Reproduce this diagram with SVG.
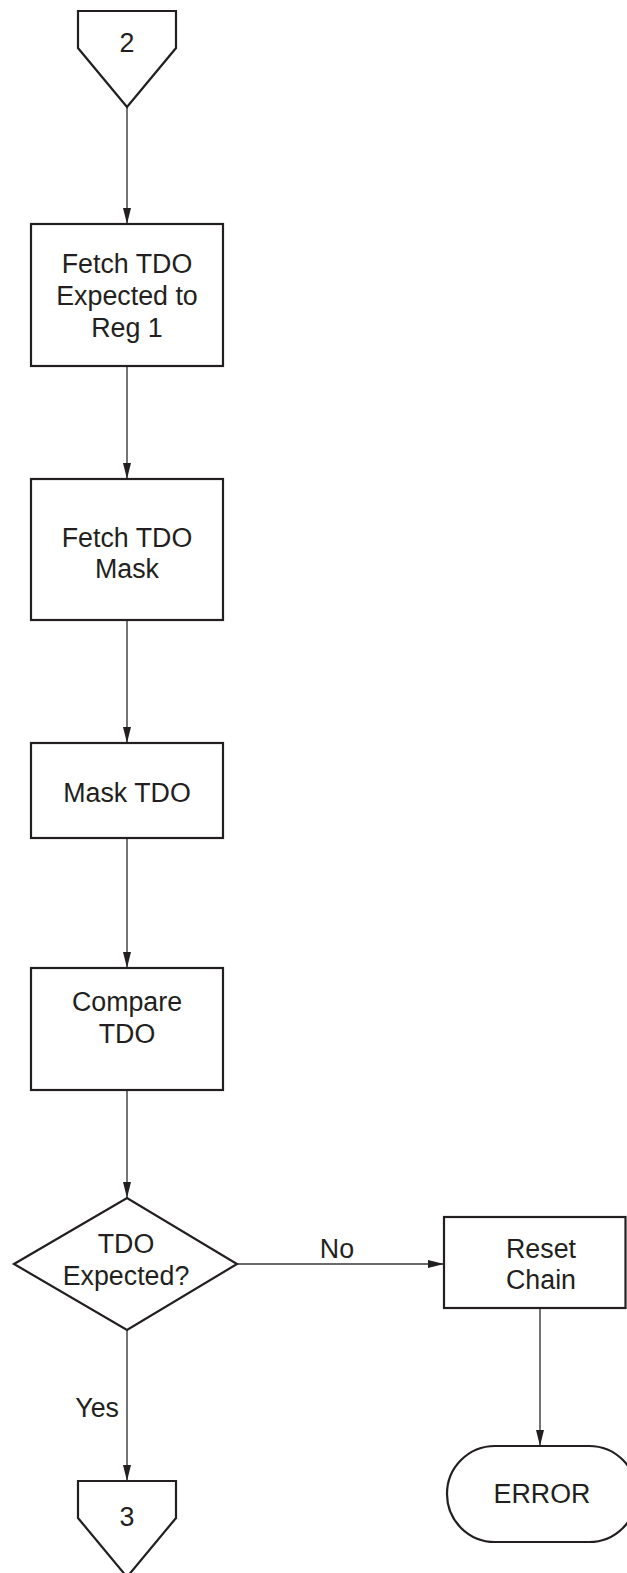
<svg xmlns="http://www.w3.org/2000/svg" width="627" height="1573" viewBox="0 0 627 1573">
  <style>
    .shape { fill: #ffffff; stroke: #231f20; stroke-width: 2.2; stroke-linejoin: miter; }
    .label { font-family: "Liberation Sans", Arial, sans-serif; font-size: 26.8px; fill: #231f20; text-anchor: middle; }
    .edge { fill: none; stroke: #3a3a3a; stroke-width: 1.4; }
  </style>
  <defs>
    <marker id="arrow" viewBox="0 0 16 8" refX="16" refY="4" markerWidth="16" markerHeight="8" markerUnits="userSpaceOnUse" orient="auto">
      <path d="M0,0 L16,4 L0,8 Z" fill="#231f20"/>
    </marker>
  </defs>

  <rect width="627" height="1573" fill="#ffffff"/>

  <!-- connectors -->
  <g id="connectors">
    <path class="edge" d="M127,107 V224" marker-end="url(#arrow)"/>
    <path class="edge" d="M127,366 V479" marker-end="url(#arrow)"/>
    <path class="edge" d="M127,620 V743" marker-end="url(#arrow)"/>
    <path class="edge" d="M127,838 V968" marker-end="url(#arrow)"/>
    <path class="edge" d="M127,1090 V1198" marker-end="url(#arrow)"/>
    <path class="edge" d="M127,1330 V1481" marker-end="url(#arrow)"/>
    <path class="edge" d="M237,1264 H444" marker-end="url(#arrow)"/>
    <path class="edge" d="M540,1308 V1446" marker-end="url(#arrow)"/>
    <text class="label" x="337" y="1258">No</text>
    <text class="label" x="119" y="1417" style="text-anchor:end">Yes</text>
  </g>

  <!-- off-page connector 2 -->
  <g id="offpage-2">
    <path class="shape" d="M78,11 H176 V48 L127,107 L78,48 Z"/>
    <text class="label" x="127" y="52">2</text>
  </g>

  <g id="fetch-expected">
    <rect class="shape" x="31" y="224" width="192" height="142"/>
    <text class="label" x="127" y="273">Fetch TDO</text>
    <text class="label" x="127" y="305">Expected to</text>
    <text class="label" x="127" y="337">Reg 1</text>
  </g>

  <g id="fetch-mask">
    <rect class="shape" x="31" y="479" width="192" height="141"/>
    <text class="label" x="127" y="547">Fetch TDO</text>
    <text class="label" x="127" y="578">Mask</text>
  </g>

  <g id="mask-tdo">
    <rect class="shape" x="31" y="743" width="192" height="95"/>
    <text class="label" x="127" y="802">Mask TDO</text>
  </g>

  <g id="compare-tdo">
    <rect class="shape" x="31" y="968" width="192" height="122"/>
    <text class="label" x="127" y="1011">Compare</text>
    <text class="label" x="127" y="1043">TDO</text>
  </g>

  <g id="decision">
    <path class="shape" d="M14,1264 L127,1198 L237,1264 L127,1330 Z"/>
    <text class="label" x="126" y="1253">TDO</text>
    <text class="label" x="126" y="1285">Expected?</text>
  </g>

  <g id="reset-chain">
    <rect class="shape" x="444" y="1217" width="181.5" height="91"/>
    <text class="label" x="541" y="1258">Reset</text>
    <text class="label" x="541" y="1289">Chain</text>
  </g>

  <g id="error">
    <rect class="shape" x="447" y="1446" width="190" height="96" rx="48" ry="48"/>
    <text class="label" x="542" y="1503">ERROR</text>
  </g>

  <!-- off-page connector 3 -->
  <g id="offpage-3">
    <path class="shape" d="M78,1481 H176 V1518 L127,1577 L78,1518 Z"/>
    <text class="label" x="127" y="1526">3</text>
  </g>
</svg>
